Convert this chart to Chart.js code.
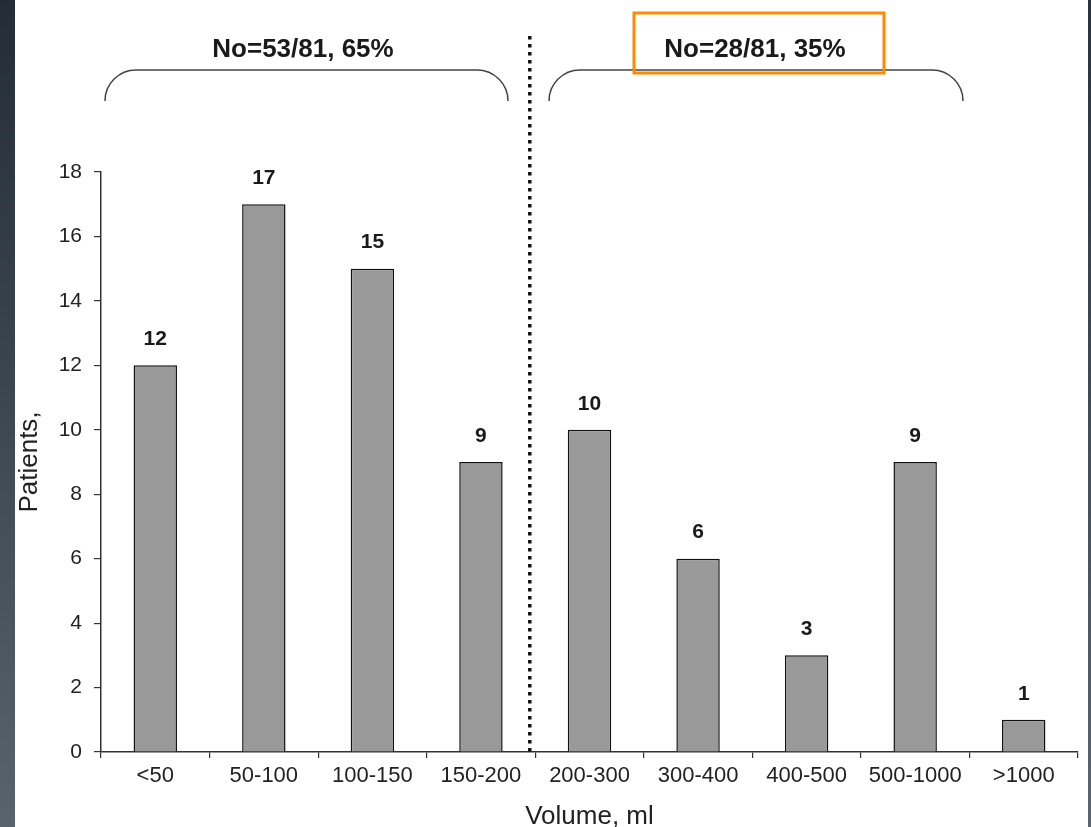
<!DOCTYPE html>
<html>
<head>
<meta charset="utf-8">
<script src="https://cdn.jsdelivr.net/npm/chart.js@4/dist/chart.umd.min.js"></script>
<style>
  body { margin: 0; background: #fff; }
  #wrap { position: relative; width: 1091px; height: 827px; overflow: hidden; }
  #leftStrip { position: absolute; left: 0; top: 0; width: 15px; height: 827px;
    background: linear-gradient(#232c37, #58636e); }
  #rightStrip { position: absolute; left: 1088px; top: 0; width: 3px; height: 827px;
    background: linear-gradient(#2a323c, #5a6570); }
</style>
</head>
<body>
<div id="wrap">
  <canvas id="chart" width="1091" height="827"></canvas>
  <div id="leftStrip"></div>
  <div id="rightStrip"></div>
</div>
<script>
const categories = ['<50', '50-100', '100-150', '150-200', '200-300', '300-400', '400-500', '500-1000', '>1000'];
const patients = [12, 17, 15, 9, 10, 6, 3, 9, 1];
const yTicks = [0, 2, 4, 6, 8, 10, 12, 14, 16, 18];
const groupLabels = ['No=53/81, 65%', 'No=28/81, 35%'];
const splitAt = 3.45; // dotted separator between 150-200 and 200-300

const FONT = '"Liberation Sans", Arial, sans-serif';

// value labels, braces, separator and highlight box
const extras = {
  id: 'extras',
  afterDatasetsDraw(chart) {
    const ctx = chart.ctx;
    const x = chart.scales.x;
    const y = chart.scales.y;
    const meta = chart.getDatasetMeta(0);

    ctx.save();
    ctx.fillStyle = '#1a1a1a';
    ctx.font = 'bold 21px ' + FONT;
    ctx.textAlign = 'center';
    ctx.textBaseline = 'middle';
    meta.data.forEach((bar, i) => {
      ctx.fillText(patients[i], bar.x, bar.y - 26);
    });

    // dotted separator
    const sx = x.getPixelForValue(splitAt);
    ctx.strokeStyle = '#111';
    ctx.lineWidth = 3.5;
    ctx.setLineDash([3.5, 4.5]);
    ctx.beginPath();
    ctx.moveTo(sx, 36);
    ctx.lineTo(sx, y.getPixelForValue(0));
    ctx.stroke();
    ctx.setLineDash([]);

    // braces
    function brace(x1, x2, top, bottom) {
      const r = bottom - top;
      ctx.beginPath();
      ctx.moveTo(x1, bottom);
      ctx.arcTo(x1, top, x1 + r, top, r);
      ctx.lineTo(x2 - r, top);
      ctx.arcTo(x2, top, x2, bottom, r);
      ctx.stroke();
    }
    ctx.strokeStyle = '#444';
    ctx.lineWidth = 1.5;
    brace(105, 508, 70, 101);
    brace(549, 963, 70, 101);

    ctx.font = 'bold 26px ' + FONT;
    ctx.fillStyle = '#1a1a1a';
    ctx.fillText(groupLabels[0], 303, 50);
    ctx.fillText(groupLabels[1], 755, 50);

    // highlight box
    ctx.strokeStyle = '#ff8a00';
    ctx.lineWidth = 3;
    ctx.strokeRect(634, 13, 250, 60);
    ctx.restore();
  }
};

new Chart(document.getElementById('chart'), {
  type: 'bar',
  data: {
    labels: categories,
    datasets: [{
      data: patients,
      backgroundColor: '#999999',
      borderColor: '#111',
      borderWidth: 1.5,
      barPercentage: 0.4,
      categoryPercentage: 1
    }]
  },
  options: {
    responsive: false,
    animation: false,
    layout: { padding: { top: 172, right: 13, bottom: 0, left: 0 } },
    plugins: { legend: { display: false }, tooltip: { enabled: false } },
    scales: {
      x: {
        afterFit: s => { s.height = 75; },
        grid: { drawOnChartArea: false, offset: true, tickLength: 6, color: '#333', lineWidth: 1.2 },
        border: { color: '#333', width: 1.5 },
        ticks: { color: '#222', padding: 5, font: { size: 22, family: FONT }, maxRotation: 0 },
        title: {
          display: true, text: 'Volume, ml', color: '#222',
          font: { size: 26, family: FONT, lineHeight: 0.8 },
          padding: { top: 0, bottom: 0 }
        }
      },
      y: {
        min: 0,
        max: 18,
        afterFit: s => { s.width = 101; },
        afterBuildTicks: s => { s.ticks = yTicks.map(v => ({ value: v })); },
        grid: { drawOnChartArea: false, tickLength: 7, color: '#333', lineWidth: 1.2 },
        border: { color: '#333', width: 1.5 },
        ticks: { color: '#222', padding: 12, font: { size: 21, family: FONT } },
        title: {
          display: true, text: 'Patients,', color: '#222',
          font: { size: 26, family: FONT, lineHeight: 1.2 },
          padding: { top: 14, bottom: 0 }
        }
      }
    }
  },
  plugins: [extras]
});
</script>
</body>
</html>
